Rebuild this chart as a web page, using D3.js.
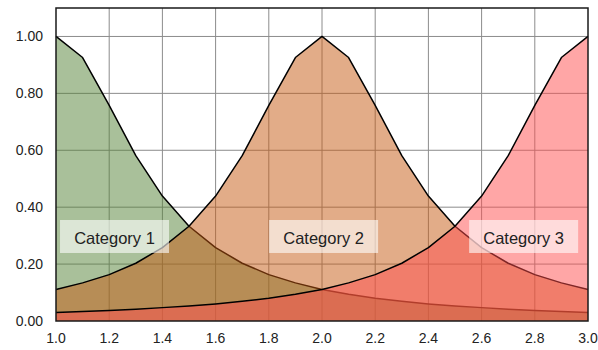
<!DOCTYPE html>
<html><head><meta charset="utf-8">
<script src="https://cdn.jsdelivr.net/npm/d3@7"></script>
<style>html,body{margin:0;padding:0;background:#fff;}svg{display:block;}</style>
</head><body>
<svg id="c" width="598" height="350"></svg>
<script>
const xValues = [1.0,1.1,1.2,1.3,1.4,1.5,1.6,1.7,1.8,1.9,2.0,2.1,2.2,2.3,2.4,2.5,2.6,2.7,2.8,2.9,3.0];
const category1 = [1.000,0.926,0.758,0.581,0.439,0.333,0.258,0.203,0.163,0.134,0.111,0.094,0.080,0.069,0.060,0.053,0.047,0.041,0.037,0.033,0.030];
const category2 = [0.111,0.134,0.163,0.203,0.258,0.333,0.439,0.581,0.758,0.926,1.000,0.926,0.758,0.581,0.439,0.333,0.258,0.203,0.163,0.134,0.111];
const category3 = [0.030,0.033,0.037,0.041,0.047,0.053,0.060,0.069,0.080,0.094,0.111,0.134,0.163,0.203,0.258,0.333,0.439,0.581,0.758,0.926,1.000];
const seriesNames = ["Category 1","Category 2","Category 3"];
const seriesColors = ["#548235","#C55A11","#FF4D4D"];
const labelX = [1.220, 2.006, 2.758];
const labelY = [0.297, 0.297, 0.297];
const xTicks = [1.0,1.2,1.4,1.6,1.8,2.0,2.2,2.4,2.6,2.8,3.0];
const yTicks = [0,0.2,0.4,0.6,0.8,1.0];

const svg = d3.select("#c");
const W = 598, H = 350;
const m = {l:56, r:10, t:8, b:29};
const x = d3.scaleLinear().domain([1,3]).range([m.l, W-m.r]);
const y = d3.scaleLinear().domain([0,1.1]).range([H-m.b, m.t]);

// grid
const g = svg.append("g");
g.selectAll("line.v").data(xTicks.slice(1,-1)).join("line")
  .attr("x1",d=>x(d)).attr("x2",d=>x(d)).attr("y1",y(0)).attr("y2",y(1.1))
  .attr("stroke","#8c8c8c").attr("stroke-width",1);
g.selectAll("line.h").data(yTicks.slice(1)).join("line")
  .attr("x1",x(1)).attr("x2",x(3)).attr("y1",d=>y(d)).attr("y2",d=>y(d))
  .attr("stroke","#8c8c8c").attr("stroke-width",1);

const all = [category1, category2, category3];
const area = d3.area().x((d,i)=>x(xValues[i])).y0(y(0)).y1(d=>y(d));
const line = d3.line().x((d,i)=>x(xValues[i])).y(d=>y(d));
all.forEach((s,k)=>{
  svg.append("path").attr("d",area(s)).attr("fill",seriesColors[k]).attr("fill-opacity",0.5);
  svg.append("path").attr("d",line(s)).attr("fill","none").attr("stroke","#000").attr("stroke-width",1.5).attr("stroke-linejoin","round");
});

// frame
svg.append("rect").attr("x",x(1)).attr("y",y(1.1)).attr("width",x(3)-x(1)).attr("height",y(0)-y(1.1))
  .attr("fill","none").attr("stroke","#1a1a1a").attr("stroke-width",1.5);

// labels
seriesNames.forEach((n,k)=>{
  const cx = x(labelX[k]), cy = y(labelY[k]);
  svg.append("rect").attr("x",cx-54.5).attr("y",cy-16.5).attr("width",109).attr("height",33)
    .attr("fill","#fff").attr("fill-opacity",0.6);
  svg.append("text").attr("x",cx).attr("y",cy).attr("dy","0.45em").attr("text-anchor","middle")
    .attr("font-family","Liberation Sans, Arial, sans-serif").attr("font-size",16.5).attr("fill","#222").text(n);
});

// axes labels
svg.selectAll("text.yt").data(yTicks).join("text")
  .attr("x",x(1)-13).attr("y",d=>y(d)).attr("dy","0.35em").attr("text-anchor","end")
  .attr("font-family","Liberation Sans, Arial, sans-serif").attr("font-size",14).attr("fill","#222")
  .text(d=>d3.format(".2f")(d));
svg.selectAll("text.xt").data(xTicks).join("text")
  .attr("x",d=>x(d)).attr("y",y(0)+22).attr("text-anchor","middle")
  .attr("font-family","Liberation Sans, Arial, sans-serif").attr("font-size",14).attr("fill","#222")
  .text(d=>d3.format(".1f")(d));
</script>
</body></html>
